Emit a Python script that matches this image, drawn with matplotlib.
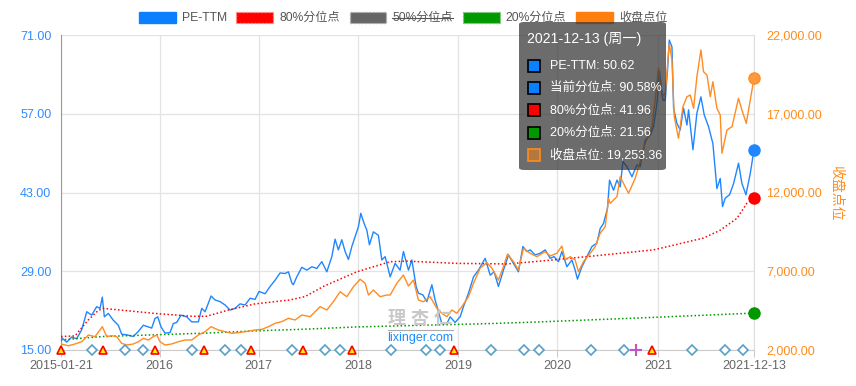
import numpy as np
import matplotlib.pyplot as plt
from matplotlib.patches import Patch, FancyBboxPatch, Rectangle
from matplotlib.lines import Line2D
from matplotlib.ticker import FuncFormatter

plt.rcParams['font.family'] = ['Liberation Sans', 'Noto Sans CJK SC']

# --- data (x in fractional years, 2015-01-21 ... 2021-12-13) ---
pe_t = [2015.055, 2015.112, 2015.161, 2015.211, 2015.261, 2015.311, 2015.360, 2015.410, 2015.443, 2015.466,
        2015.486, 2015.526, 2015.575, 2015.625, 2015.659, 2015.709, 2015.774, 2015.824, 2015.874, 2015.924,
        2015.957, 2015.990, 2016.017, 2016.050, 2016.090, 2016.140, 2016.172, 2016.206, 2016.249, 2016.306,
        2016.355, 2016.421, 2016.455, 2016.488, 2016.548, 2016.587, 2016.637, 2016.687, 2016.737, 2016.786,
        2016.836, 2016.886, 2016.936, 2016.985, 2017.025, 2017.085, 2017.135, 2017.184, 2017.234, 2017.284,
        2017.317, 2017.351, 2017.366, 2017.400, 2017.450, 2017.500, 2017.550, 2017.599, 2017.649, 2017.699,
        2017.749, 2017.781, 2017.814, 2017.848, 2017.881, 2017.914, 2017.948, 2017.980, 2018.013, 2018.037,
        2018.070, 2018.097, 2018.123, 2018.162, 2018.212, 2018.246, 2018.279, 2018.329, 2018.378, 2018.428,
        2018.461, 2018.511, 2018.545, 2018.587, 2018.610, 2018.654, 2018.694, 2018.744, 2018.776, 2018.809,
        2018.843, 2018.893, 2018.926, 2018.975, 2019.025, 2019.058, 2019.108, 2019.158, 2019.207, 2019.274,
        2019.324, 2019.363, 2019.406, 2019.456, 2019.506, 2019.555, 2019.605, 2019.649, 2019.689, 2019.722,
        2019.771, 2019.821, 2019.871, 2019.921, 2019.960, 2020.003, 2020.037, 2020.087, 2020.137, 2020.169,
        2020.192, 2020.236, 2020.286, 2020.336, 2020.385, 2020.418, 2020.451, 2020.491, 2020.511, 2020.551,
        2020.585, 2020.617, 2020.644, 2020.684, 2020.734, 2020.783, 2020.816, 2020.866, 2020.916, 2020.949,
        2020.983, 2021.008, 2021.042, 2021.065, 2021.088, 2021.105, 2021.132, 2021.148, 2021.181, 2021.214,
        2021.247, 2021.281, 2021.297, 2021.341, 2021.380, 2021.420, 2021.453, 2021.496, 2021.539, 2021.579,
        2021.612, 2021.635, 2021.662, 2021.705, 2021.745, 2021.794, 2021.828, 2021.868, 2021.911, 2021.948]
pe_val = [17.3, 16.4, 17.3, 17.0, 18.6, 21.8, 21.2, 22.7, 22.4, 24.4,
          20.9, 21.5, 20.3, 19.4, 17.8, 17.7, 17.4, 18.3, 19.4, 19.1,
          18.9, 20.6, 20.9, 19.1, 18.0, 18.1, 19.7, 19.9, 21.2, 20.9,
          20.0, 20.0, 22.4, 21.8, 24.6, 23.9, 23.6, 23.0, 22.1, 22.4,
          23.2, 23.0, 24.2, 24.0, 25.4, 25.0, 26.3, 27.4, 28.7, 28.6,
          28.9, 26.9, 26.6, 28.0, 29.7, 29.2, 29.8, 29.5, 30.7, 28.9,
          31.6, 34.7, 32.8, 34.6, 32.5, 31.1, 33.4, 35.1, 36.9, 39.3,
          37.5, 36.3, 33.7, 36.0, 35.4, 31.0, 31.6, 28.0, 30.4, 29.2,
          32.5, 29.2, 31.0, 26.3, 25.1, 24.8, 23.6, 26.6, 23.9, 21.8,
          19.7, 19.7, 20.9, 19.9, 20.9, 22.7, 25.1, 28.0, 29.2, 31.3,
          28.3, 28.9, 26.3, 29.2, 31.9, 30.4, 28.9, 33.4, 32.5, 32.8,
          31.9, 32.2, 32.8, 31.3, 31.6, 30.7, 32.5, 29.8, 31.0, 29.2,
          27.6, 29.8, 31.6, 33.4, 34.0, 36.6, 37.5, 40.2, 45.2, 43.4,
          45.2, 44.0, 48.5, 47.6, 45.8, 47.9, 47.6, 52.3, 53.2, 54.7,
          58.9, 64.5, 59.4, 59.4, 64.8, 70.1, 68.9, 58.0, 55.3, 54.1,
          58.0, 55.0, 57.7, 50.6, 57.1, 60.0, 56.8, 54.7, 51.7, 43.7,
          45.5, 40.5, 42.0, 42.6, 44.6, 48.2, 44.6, 42.6, 46.4, 50.62]

close_t = [2015.055, 2015.128, 2015.194, 2015.261, 2015.327, 2015.393, 2015.466, 2015.510, 2015.559, 2015.609,
           2015.659, 2015.709, 2015.774, 2015.824, 2015.874, 2015.924, 2015.973, 2016.007, 2016.040, 2016.090,
           2016.156, 2016.222, 2016.289, 2016.355, 2016.421, 2016.488, 2016.548, 2016.620, 2016.687, 2016.754,
           2016.819, 2016.886, 2016.985, 2017.052, 2017.118, 2017.184, 2017.251, 2017.317, 2017.383, 2017.450,
           2017.533, 2017.632, 2017.699, 2017.764, 2017.831, 2017.898, 2017.964, 2018.030, 2018.080, 2018.113,
           2018.162, 2018.229, 2018.296, 2018.329, 2018.395, 2018.461, 2018.511, 2018.561, 2018.610, 2018.660,
           2018.727, 2018.793, 2018.843, 2018.893, 2018.943, 2018.992, 2019.042, 2019.108, 2019.158, 2019.224,
           2019.291, 2019.341, 2019.406, 2019.456, 2019.496, 2019.555, 2019.605, 2019.655, 2019.722, 2019.788,
           2019.871, 2019.921, 2019.987, 2020.037, 2020.070, 2020.120, 2020.169, 2020.202, 2020.252, 2020.319,
           2020.368, 2020.418, 2020.468, 2020.501, 2020.518, 2020.551, 2020.585, 2020.617, 2020.650, 2020.700,
           2020.766, 2020.816, 2020.866, 2020.933, 2020.965, 2020.998, 2021.032, 2021.065, 2021.105, 2021.132,
           2021.155, 2021.197, 2021.241, 2021.281, 2021.314, 2021.347, 2021.380, 2021.420, 2021.446, 2021.480,
           2021.513, 2021.539, 2021.579, 2021.612, 2021.629, 2021.679, 2021.729, 2021.794, 2021.828, 2021.871,
           2021.911, 2021.948]
close_val = [2381, 2270, 2381, 2527, 2952, 2845, 3480, 2845, 2910, 2845,
             2423, 2317, 2381, 2527, 2741, 2635, 2845, 2952, 2527, 2317,
             2381, 2527, 2635, 2635, 2952, 3163, 3480, 3270, 3163, 3060,
             3100, 3163, 3270, 3310, 3480, 3695, 3800, 4013, 3905, 4222,
             4115, 4750, 4540, 5067, 5700, 5385, 6020, 6490, 6235, 5490,
             5810, 5385, 5490, 5490, 6235, 6760, 6065, 6445, 5175, 5067,
             5385, 4650, 4330, 4115, 4540, 4330, 4750, 5385, 6235, 7190,
             7545, 7190, 6445, 7290, 8095, 7610, 7080, 8455, 8140, 7925,
             8240, 7970, 8140, 8600, 7715, 7925, 7715, 6970, 7610, 8140,
             8560, 9410, 9830, 11630, 11310, 11525, 11735, 13000, 12585, 11950,
             12900, 13955, 15120, 16180, 17870, 19885, 18080, 18300, 21470, 20410,
             16810, 15440, 17450, 18080, 18190, 17345, 19350, 21050, 19670, 19460,
             18080, 19035, 17345, 16920, 14490, 15970, 16180, 17980, 17240, 16390,
             17870, 19253.36]

q80_t = [2015.055, 2015.194, 2015.324, 2015.423, 2015.476, 2015.990, 2016.355, 2016.504, 2016.720, 2016.985,
         2017.334, 2017.483, 2017.665, 2017.997, 2018.329, 2018.495, 2018.992, 2019.490, 2019.821, 2020.286,
         2020.949, 2021.446, 2021.612, 2021.778, 2021.878, 2021.948]
q80_val = [17.4, 17.5, 20.3, 22.0, 22.4, 21.5, 21.0, 21.0, 22.1, 23.2,
           23.9, 24.5, 26.3, 28.9, 30.7, 30.8, 30.4, 30.3, 30.8, 31.6,
           32.8, 34.9, 36.3, 38.4, 41.1, 41.96]

q20_t = [2015.055, 2015.476, 2015.990, 2016.488, 2016.985, 2017.483, 2017.997, 2018.660, 2019.324, 2019.821,
         2020.949, 2021.948]
q20_val = [16.8, 17.4, 17.7, 18.0, 18.4, 18.7, 19.1, 19.4, 19.7, 20.0, 20.8, 21.56]

current_pct = 90.58

# event markers along the time axis
triangle_t = [2015.055, 2015.473, 2015.990, 2016.478, 2016.946, 2017.463, 2017.951, 2018.965, 2020.936]
diamond_t = [2015.363, 2015.692, 2015.871, 2016.358, 2016.687, 2016.846, 2017.354, 2017.682, 2017.831,
             2018.339, 2018.687, 2018.826, 2019.334, 2019.662, 2019.811, 2020.329, 2020.657, 2021.334,
             2021.662, 2021.841]
plus_t = [2020.776]

year_ticks = [2015.055, 2016.037, 2017.022, 2018.013, 2019.008, 2019.992, 2020.992, 2021.948]
year_labels = ['2015-01-21', '2016', '2017', '2018', '2019', '2020', '2021', '2021-12-13']
pe_ticks = [15, 29, 43, 57, 71]
close_ticks = [2000, 7000, 12000, 17000, 22000]

BLUE = '#1f86ff'
ORANGE = '#ff8c22'
RED = '#ff0000'
GREEN = '#009900'
GRAY = '#666666'

W, H = 856, 386
fig = plt.figure(figsize=(W / 100, H / 100), dpi=100)
ax = fig.add_axes([61 / W, 36 / H, 693 / W, 315 / H])
ax2 = ax.twinx()

ax.plot(pe_t, pe_val, color=BLUE, lw=1.0, zorder=3)
ax.plot(q80_t, q80_val, color=RED, lw=1.1, ls=(0, (1, 1.5)), zorder=3)
ax.plot(q20_t, q20_val, color=GREEN, lw=1.1, ls=(0, (1, 1.5)), zorder=3)

ax2.plot(close_t, close_val, color=ORANGE, lw=1.0, zorder=3)

# end-point dots (drawn on the top axes so nothing covers them)
ax2.plot(pe_t[-1], pe_val[-1], 'o', ms=8, color=BLUE, transform=ax.transData, zorder=6, clip_on=False)
ax2.plot(q80_t[-1], q80_val[-1], 'o', ms=8, color=RED, transform=ax.transData, zorder=6, clip_on=False)
ax2.plot(q20_t[-1], q20_val[-1], 'o', ms=8, color=GREEN, transform=ax.transData, zorder=6, clip_on=False)
ax2.plot(close_t[-1], close_val[-1], 'o', ms=8, color='#ff9a3c', mec=ORANGE, zorder=6, clip_on=False)

xt = ax2.get_xaxis_transform()
ax2.plot(diamond_t, [0] * len(diamond_t), 'D', ms=5, mfc='white', mec='#5b9ec9', mew=1.2,
         transform=xt, clip_on=False, zorder=5)
ax2.plot(triangle_t, [0] * len(triangle_t), '^', ms=6, mfc='#ffee00', mec='#ff0000', mew=1.2,
         transform=xt, clip_on=False, zorder=5)
ax2.plot(plus_t, [0] * len(plus_t), '+', ms=8, mec='#c054c8', mew=1.5,
         transform=xt, clip_on=False, zorder=5)

ax.set_xlim(year_ticks[0], year_ticks[-1])
ax.set_ylim(pe_ticks[0], pe_ticks[-1])
ax2.set_ylim(close_ticks[0], close_ticks[-1])

ax.set_xticks(year_ticks)
ax.set_xticklabels(year_labels)
ax.set_yticks(pe_ticks)
ax2.set_yticks(close_ticks)
ax.yaxis.set_major_formatter(FuncFormatter(lambda v, p: f'{v:.2f}'))
ax2.yaxis.set_major_formatter(FuncFormatter(lambda v, p: f'{v:,.2f}'))

ax.grid(True, color='#e3e3e3', lw=0.9)
ax.set_axisbelow(True)
ax.tick_params(axis='x', length=5, color='#cccccc', labelcolor='#666666', labelsize=9, pad=2)
ax.tick_params(axis='y', length=0, labelcolor='#2f8cff', labelsize=9, pad=7)
ax2.tick_params(axis='y', length=0, labelcolor='#ff8c1a', labelsize=9, pad=9)

for s in ['top', 'right']:
    ax.spines[s].set_visible(False)
ax.spines['left'].set_color('#999999')
ax.spines['bottom'].set_color('#cccccc')
for s in ['top', 'left', 'bottom']:
    ax2.spines[s].set_visible(False)
ax2.spines['right'].set_color('#dddddd')

ax2.text(1.118, 0.498, '收盘点位', transform=ax2.transAxes, rotation=270,
         ha='center', va='center', color='#ff8c1a', fontsize=10)

# legend
handles = [Patch(facecolor='#0a80ff', edgecolor='#0a80ff'),
           Patch(facecolor=RED, edgecolor='#ff9090', ls=':'),
           Patch(facecolor=GRAY, edgecolor='#aaaaaa', ls=':'),
           Patch(facecolor=GREEN, edgecolor='#80c080', ls=':'),
           Patch(facecolor='#ff7f0e', edgecolor='#ff7f0e')]
labels = ['PE-TTM', '80%分位点', '50%分位点', '20%分位点', '收盘点位']
leg = fig.legend(handles, labels, loc='center', bbox_to_anchor=(403 / W, 1 - 18 / H), ncol=5,
                 frameon=False, fontsize=8.7, handlelength=3.05, handleheight=1.0,
                 handletextpad=0.5, columnspacing=0.8, labelcolor='#555555')

# watermark
fig.text(420 / W, 1 - 319 / H, '理 杏 仁', ha='center', va='center', color='#c8c8c8',
         fontsize=13, fontweight='bold')
fig.add_artist(Line2D([388 / W, 453 / W], [1 - 330 / H, 1 - 330 / H], color='#aaaaaa', lw=0.8))
fig.text(420 / W, 1 - 338 / H, 'lixinger.com', ha='center', va='center', color='#1a8cff', fontsize=9)

# tooltip
fig.patches.append(FancyBboxPatch((519 / W, 1 - 170 / H), 147 / W, 148 / H,
                                  boxstyle='round,pad=0,rounding_size=0.006',
                                  transform=fig.transFigure, facecolor='#333333', alpha=0.72,
                                  edgecolor='none', zorder=10))
fig.text(527 / W, 1 - 39 / H, '2021-12-13 (周一)', color='white', fontsize=10.2,
         va='center', ha='left', zorder=11)
tip_rows = [(f'PE-TTM: {pe_val[-1]:.2f}', '#0a80ff', 'black'),
            (f'当前分位点: {current_pct:.2f}%', '#0a80ff', 'black'),
            (f'80%分位点: {q80_val[-1]:.2f}', RED, 'black'),
            (f'20%分位点: {q20_val[-1]:.2f}', GREEN, 'black'),
            (f'收盘点位: {close_val[-1]:,.2f}', '#b3773f', '#ff8c1a')]
for i, (txt, fc, ec) in enumerate(tip_rows):
    yc = 66 + i * 22.2
    fig.patches.append(Rectangle((527.5 / W, 1 - (yc + 6) / H), 12 / W, 12 / H,
                                 transform=fig.transFigure, facecolor=fc, edgecolor=ec,
                                 lw=1.2, zorder=11))
    fig.text(550 / W, 1 - yc / H, txt, color='white', fontsize=9, va='center', ha='left', zorder=11)

# strike-through on the hidden 50% legend entry
fig.canvas.draw()
bb = leg.get_texts()[2].get_window_extent()
inv = fig.transFigure.inverted()
(x0, y0), (x1, y1) = inv.transform([[bb.x0, bb.y0], [bb.x1, bb.y1]])
ym = y0 + 0.52 * (y1 - y0)
fig.add_artist(Line2D([x0, x1], [ym, ym], color='#555555', lw=0.8))

fig.savefig('out.png', dpi=100)
